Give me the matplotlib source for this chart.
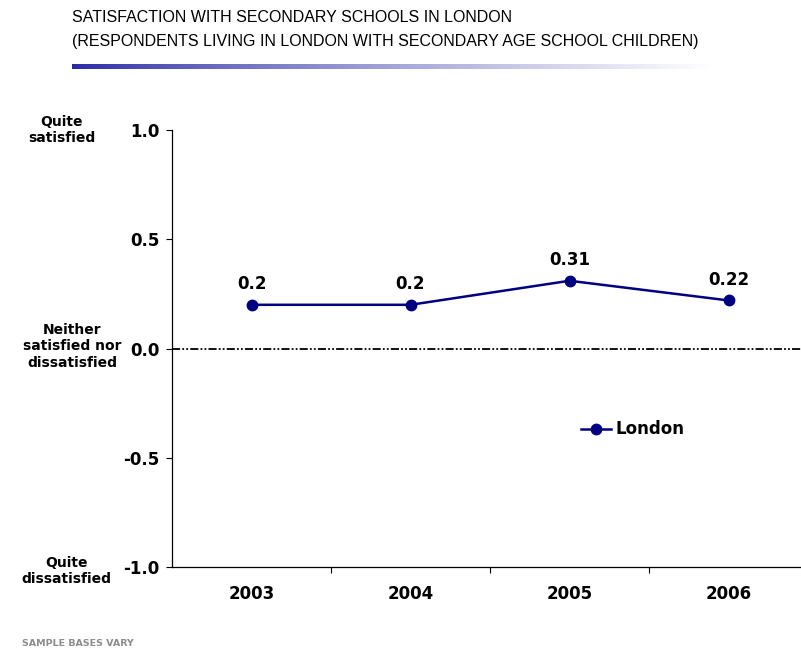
import numpy as np
import matplotlib
matplotlib.use("Agg")
import matplotlib.pyplot as plt
import matplotlib.transforms as mtransforms

years = ['2003', '2004', '2005', '2006']
london = [0.2, 0.2, 0.31, 0.22]
point_labels = ['0.2', '0.2', '0.31', '0.22']
yticks = [-1.0, -0.5, 0.0, 0.5, 1.0]

W, H = 801, 657
fig = plt.figure(figsize=(W / 100, H / 100), dpi=100)

def px(x, y):
    return x / W, 1 - y / H

# axes: x from 172 to 808 px, y from 130 to 567 px
ax = fig.add_axes([172 / W, 1 - 567 / H, 636 / W, 437 / H])
x = np.arange(len(years))
ax.set_xlim(-0.5, 3.5)
ax.set_ylim(-1.0, 1.0)

# zero line, dash-dot-dot
ax.axhline(0, color='black', lw=1.3, dashes=[4.5, 1.2, 1, 1.2, 1, 1.2], zorder=1)

ax.plot(x, london, color='#000080', lw=1.8, marker='o', ms=7.5, label='London', zorder=3)
for xi, v, lab in zip(x, london, point_labels):
    ax.annotate(lab, (xi, v), xytext=(0, 8.5), textcoords='offset points',
                ha='center', va='bottom', fontsize=12, fontweight='bold')

for s in ['top', 'right']:
    ax.spines[s].set_visible(False)
ax.spines['left'].set_linewidth(0.9)
ax.spines['bottom'].set_linewidth(0.9)

ax.set_yticks(yticks)
ax.set_yticklabels([f'{t:.1f}' for t in yticks], fontsize=12, fontweight='bold')
ax.set_xticks(x)
ax.set_xticklabels(years, fontsize=12, fontweight='bold')
ax.tick_params(axis='x', length=0, pad=13)
ax.set_xticks(np.arange(0.5, 3.5, 1), minor=True)
ax.tick_params(axis='x', which='minor', length=4, width=0.8)
ax.tick_params(axis='y', length=4, width=0.8, pad=5)

leg = ax.legend(loc='center left', bbox_to_anchor=(2.03, -0.37), bbox_transform=ax.transData,
                frameon=False, prop={'weight': 'bold', 'size': 12},
                handlelength=1.8, handletextpad=0.3, borderaxespad=0)

# side labels
tr = mtransforms.blended_transform_factory(fig.transFigure, ax.transData)
side = [(62, 1.0, 'Quite\nsatisfied'),
        (72, 0.01, 'Neither\nsatisfied nor\ndissatisfied'),
        (66, -1.02, 'Quite\ndissatisfied')]
for xp, yv, s in side:
    ax.text(xp / W, yv, s, transform=tr, ha='center', va='center',
            fontsize=10, fontweight='bold', linespacing=1.2, clip_on=False)

# title
fig.text(*px(72, 22), 'SATISFACTION WITH SECONDARY SCHOOLS IN LONDON',
         family='Liberation Sans', fontsize=11.5, va='baseline', ha='left')
fig.text(*px(72, 46), '(RESPONDENTS LIVING IN LONDON WITH SECONDARY AGE SCHOOL CHILDREN)',
         family='Liberation Sans', fontsize=11.5, va='baseline', ha='left')

# gradient bar under the title
gax = fig.add_axes([72 / W, 1 - 69 / H, 640 / W, 5 / H])
grad = np.linspace(0, 1, 256) ** 0.8
c0 = np.array([0.16, 0.16, 0.65])
c1 = np.array([1.0, 1.0, 1.0])
img = c0[None, None, :] * (1 - grad[None, :, None]) + c1[None, None, :] * grad[None, :, None]
gax.imshow(img, aspect='auto', extent=[0, 1, 0, 1])
gax.axis('off')

fig.text(*px(22, 646), 'SAMPLE BASES VARY', fontsize=6.8, fontweight='bold',
         color='#8c8c8c', va='baseline', ha='left')

fig.savefig('out.png', dpi=100)
